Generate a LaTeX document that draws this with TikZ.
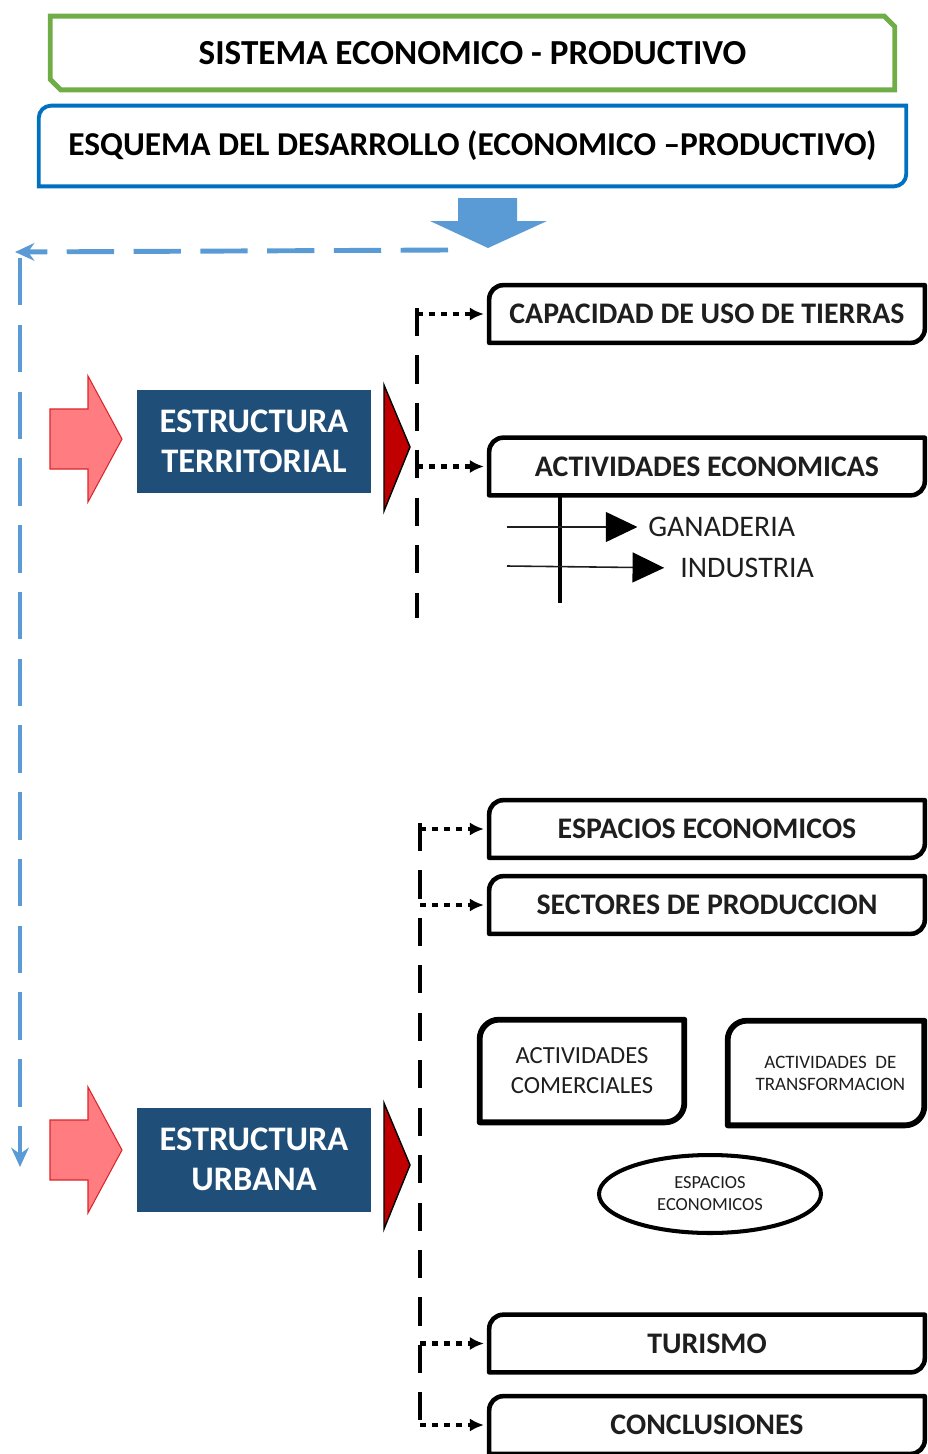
\documentclass[tikz,border=0pt]{standalone}
\usepackage{fontspec}
\setmainfont{Carlito}
\usetikzlibrary{arrows.meta,shapes.geometric}
\definecolor{TitleGreen}{HTML}{70AD47}
\definecolor{TitleBlue}{HTML}{0070C0}
\definecolor{ArrowBlue}{HTML}{5B9BD5}
\definecolor{NavyFill}{HTML}{1F4E79}
\definecolor{PinkFill}{HTML}{FF7C80}
\definecolor{PinkLine}{HTML}{D9262C}
\definecolor{DarkRed}{HTML}{C00000}
\definecolor{InkGray}{HTML}{1E1E1E}

\begin{document}
\begin{tikzpicture}[x=0.02cm,y=-0.02cm]
      \tikzstyle{title}=[minimum width=16.88cm, minimum height=1.46cm, inner sep=0,
        font=\fontsize{20}{23}\selectfont\bfseries]
      \tikzstyle{estructura}=[fill=NavyFill, text=white, minimum width=4.68cm, minimum height=2.08cm,
        align=center, inner sep=0, font=\fontsize{19.6}{22.5}\selectfont\bfseries]
      \tikzstyle{item}=[minimum width=8.7cm, minimum height=1.14cm, inner sep=0,
        text=InkGray, font=\fontsize{17}{20}\selectfont\bfseries]
      \tikzstyle{minor}=[inner sep=0, align=center, text=InkGray]
      \tikzstyle{outline}=[line width=2.6pt, line join=round]
      \tikzstyle{trunk}=[line width=2.8pt, dash pattern=on 16pt off 11pt]
      \tikzstyle{dotarrow}=[line width=2.8pt, dash pattern=on 3.4pt off 3.4pt,
        -{Latex[length=8pt,width=7.5pt]}, shorten >=3pt]
      \tikzstyle{pointer}=[line width=0.9pt, draw=InkGray, -{Triangle[length=18pt,width=17pt,black]}]
      \tikzstyle{returnline}=[ArrowBlue, line width=2.8pt, dash pattern=on 27pt off 11pt,
        -{Stealth[length=11pt,width=10pt]}]
      \useasboundingbox (0,0) rectangle (928,1454);

      % encabezados
      \node[title] (sis) at (472.5,53) {SISTEMA ECONOMICO - PRODUCTIVO};
      \draw[TitleGreen, line width=2.8pt] (sis.north west) -- ([xshift=-6pt]sis.north east)
        -- ([yshift=-6pt]sis.north east) -- (sis.south east) -- ([xshift=6pt]sis.south west)
        -- ([yshift=6pt]sis.south west) -- cycle;
      \node[title, minimum width=17.34cm, minimum height=1.6cm, font=\fontsize{19}{22}\selectfont\bfseries]
        (esq) at (472.5,146) {ESQUEMA DEL DESARROLLO (ECONOMICO --PRODUCTIVO)};
      \draw[TitleBlue, line width=2.2pt] (esq.north east) -- ([xshift=7pt]esq.north west)
        arc[start angle=90,end angle=180,radius=7pt] -- (esq.south west)
        -- ([xshift=-7pt]esq.south east) arc[start angle=270,end angle=360,radius=7pt] -- cycle;
      \fill[ArrowBlue] (458,198) -- (517,198) -- (517,221) -- (547,221) -- (488,248)
        -- (430,221) -- (458,221) -- cycle;

      % retorno
      \coordinate (r0) at (448,250);
      \coordinate (r1) at (15,252);
      \coordinate (r2) at (20,258);
      \coordinate (r3) at (20,1167);
      \draw[returnline] (r0) -- (r1);
      \draw[returnline] (r2) -- (r3);

      % estructuras
      \node[estructura] (ter) at (254,441.5) {ESTRUCTURA\\TERRITORIAL};
      \node[estructura] (urb) at (254,1159.5) {ESTRUCTURA\\URBANA};
      \foreach \y in {439,1150}
        \draw[PinkLine, fill=PinkFill, line width=0.6pt] (50,\y-30) -- (88,\y-30) -- (88,\y-63)
          -- (122,\y) -- (88,\y+63) -- (88,\y+30) -- (50,\y+30) -- cycle;
      \foreach \y in {447,1165}
        \draw[fill=DarkRed, line width=0.8pt] (384,\y-62) -- (410,\y) -- (384,\y+64) -- cycle;

      % rama territorial
      \node[item] (cap) at (707,314) {CAPACIDAD DE USO DE TIERRAS};
      \node[item] (act) at (707,466.5) {ACTIVIDADES ECONOMICAS};
      \coordinate (t1) at (417,308);
      \coordinate (t2) at (417,618);
      \draw[trunk] (t1) -- (t2);
      \draw[dotarrow] (cap.west -| t1) -- (cap.west);
      \draw[dotarrow] (act.west -| t1) -- (act.west);

      \coordinate (stem) at (560,603);
      \draw[line width=2.3pt] (act.south -| stem) -- (stem);
      \node[minor, anchor=west, font=\fontsize{17}{20}\selectfont] (gan) at (648,527) {GANADERIA};
      \node[minor, anchor=west, font=\fontsize{17}{20}\selectfont] (ind) at (680,568) {INDUSTRIA};
      \coordinate (g0) at (507,527);
      \coordinate (i0) at (507,566);
      \draw[pointer, shorten >=6pt] (g0) -- (gan.west);
      \draw[pointer, shorten >=9pt] (i0) -- (ind.west);

      % rama urbana
      \node[item] (esp) at (707,829) {ESPACIOS ECONOMICOS};
      \node[item] (sec) at (707,905) {SECTORES DE PRODUCCION};
      \node[item] (tur) at (707,1343.5) {TURISMO};
      \node[item] (con) at (707,1425) {CONCLUSIONES};
      \coordinate (u1) at (420,823);
      \coordinate (u2) at (420,1420);
      \draw[trunk] (u1) -- (u2);
      \foreach \n in {esp,sec,tur,con}
        \draw[dotarrow] (\n.west -| u1) -- (\n.west);

      \foreach \n in {cap,act,esp,sec,tur,con}
        \draw[outline] (\n.north east) -- ([xshift=8pt]\n.north west)
          arc[start angle=90,end angle=180,radius=8pt] -- (\n.south west)
          -- ([xshift=-8pt]\n.south east) arc[start angle=270,end angle=360,radius=8pt] -- cycle;

      \node[minor, minimum width=4.08cm, minimum height=2.04cm, font=\fontsize{14}{17}\selectfont]
        (com) at (582,1071) {ACTIVIDADES\\COMERCIALES};
      \node[minor, minimum width=3.92cm, minimum height=2.08cm, font=\fontsize{10.8}{12.5}\selectfont]
        (tra) at (826,1073) {\hspace*{5pt}ACTIVIDADES\ \ DE\\\hspace*{5pt}TRANSFORMACION};
      \foreach \n in {com,tra}
        \draw[outline, line width=3.3pt] (\n.north east) -- ([xshift=11pt]\n.north west)
          arc[start angle=90,end angle=180,radius=11pt] -- (\n.south west)
          -- ([xshift=-11pt]\n.south east) arc[start angle=270,end angle=360,radius=11pt] -- cycle;
      \node[ellipse, draw, line width=2.3pt, minimum width=4.44cm, minimum height=1.56cm,
        inner sep=0, align=center, text=InkGray, font=\fontsize{10.5}{12.5}\selectfont]
        (eco) at (710,1194) {ESPACIOS\\ECONOMICOS};
    \end{tikzpicture}
\end{document}
